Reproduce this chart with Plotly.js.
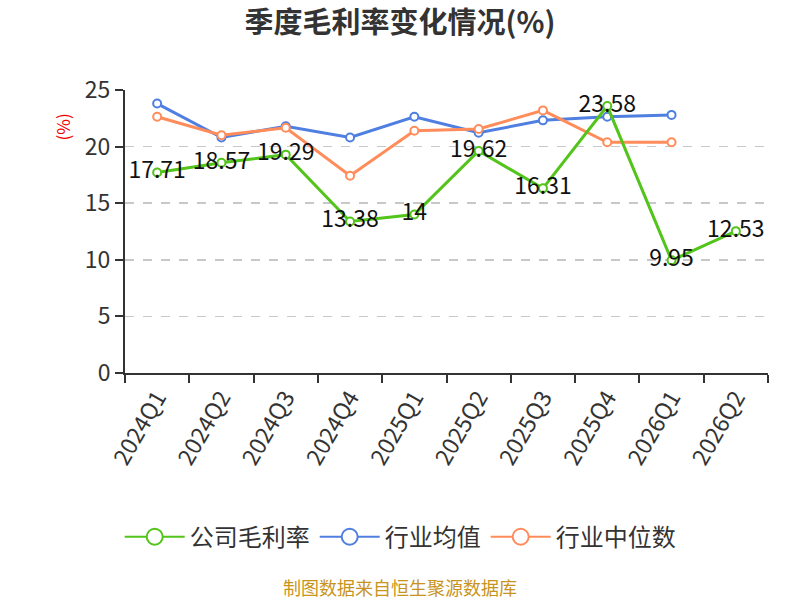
<!DOCTYPE html>
<html>
<head>
<meta charset="utf-8">
<script src="https://cdn.plot.ly/plotly-3.0.1.min.js"></script>
<style>
  html, body { margin: 0; padding: 0; background: #fff; }
  #chart { width: 800px; height: 600px; }
</style>
</head>
<body>
<div id="chart"></div>
<script>
const quarters = ["2024Q1", "2024Q2", "2024Q3", "2024Q4", "2025Q1", "2025Q2", "2025Q3", "2025Q4", "2026Q1", "2026Q2"]
const company = [17.71, 18.57, 19.29, 13.38, 14, 19.62, 16.31, 23.58, 9.95, 12.53]
const industryAvg = [23.8, 20.8, 21.8, 20.8, 22.64, 21.23, 22.32, 22.64, 22.8, null]
const industryMedian = [22.64, 21.0, 21.67, 17.43, 21.4, 21.55, 23.2, 20.38, 20.38, null]

const seriesNames = ["公司毛利率", "行业均值", "行业中位数"]
const seriesColors = ["#52c41a", "#4f7fe0", "#ff8c5a"]

const font = '"Noto Sans CJK SC", "Noto Sans", sans-serif'

function series(name, y, color, withText) {
  const tr = {
    x: quarters,
    y: y,
    name: name,
    type: "scatter",
    mode: withText ? "lines+markers+text" : "lines+markers",
    line: { color: color, width: 3 },
    marker: { size: 8, color: "#fff", line: { color: color, width: 2 } },
    cliponaxis: false,
    showlegend: false,
  }
  if (withText) {
    tr.text = y.map((v) => String(v))
    tr.textposition = "middle center"
    tr.textfont = { family: font, size: 23, color: "#111" }
  }
  return tr
}

// legend-only entries with bigger hollow circles
function legendEntry(name, color) {
  return {
    x: [null],
    y: [null],
    name: name,
    type: "scatter",
    mode: "lines+markers",
    line: { color: color, width: 2 },
    marker: { size: 16, color: "#fff", line: { color: color, width: 2 } },
    showlegend: true,
  }
}

const data = [
  series(seriesNames[1], industryAvg, seriesColors[1], false),
  series(seriesNames[2], industryMedian, seriesColors[2], false),
  series(seriesNames[0], company, seriesColors[0], true),
  legendEntry(seriesNames[0], seriesColors[0]),
  legendEntry(seriesNames[1], seriesColors[1]),
  legendEntry(seriesNames[2], seriesColors[2]),
]

const layout = {
  width: 800,
  height: 600,
  margin: { l: 125, r: 32, t: 90, b: 227 },
  paper_bgcolor: "#fff",
  plot_bgcolor: "#fff",
  font: { family: font, color: "#333" },
  showlegend: true,
  title: {
    text: "<b>季度毛利率变化情况(%)</b>",
    x: 0.5,
    xanchor: "center",
    y: 0.962,
    yanchor: "middle",
    font: { family: font, size: 29, color: "#333" },
  },
  xaxis: {
    type: "category",
    range: [-0.5, 9.5],
    tickson: "boundaries",
    ticks: "outside",
    ticklen: 8,
    tickwidth: 2,
    tickcolor: "#333",
    showline: true,
    linecolor: "#333",
    linewidth: 2,
    showgrid: false,
    tickangle: -60,
    tickfont: { family: font, size: 23, color: "#333" },
    fixedrange: true,
  },
  yaxis: {
    range: [0, 25],
    dtick: 5,
    ticks: "outside",
    ticklen: 8,
    tickwidth: 2,
    tickcolor: "#333",
    showline: true,
    linecolor: "#333",
    linewidth: 2,
    showgrid: true,
    gridcolor: "#c8c8c8",
    griddash: "dash",
    gridwidth: 1.5,
    zeroline: false,
    tickfont: { family: font, size: 23, color: "#333" },
    fixedrange: true,
  },
  legend: {
    orientation: "h",
    x: 0.428,
    xanchor: "center",
    y: -0.58,
    yanchor: "middle",
    traceorder: "normal",
    font: { family: font, size: 24, color: "#333" },
    itemwidth: 60,
  },
  annotations: [
    {
      text: "(%)",
      xref: "paper",
      yref: "paper",
      x: -0.097,
      y: 0.87,
      xanchor: "center",
      yanchor: "middle",
      textangle: -90,
      showarrow: false,
      font: { family: font, size: 17, color: "#e00" },
    },
    {
      text: "制图数据来自恒生聚源数据库",
      xref: "paper",
      yref: "paper",
      x: 0.428,
      y: -0.755,
      xanchor: "center",
      yanchor: "middle",
      showarrow: false,
      font: { family: font, size: 18, color: "#c8941e" },
    },
  ],
}

Plotly.newPlot("chart", data, layout, { displayModeBar: false, staticPlot: true })
</script>
</body>
</html>
